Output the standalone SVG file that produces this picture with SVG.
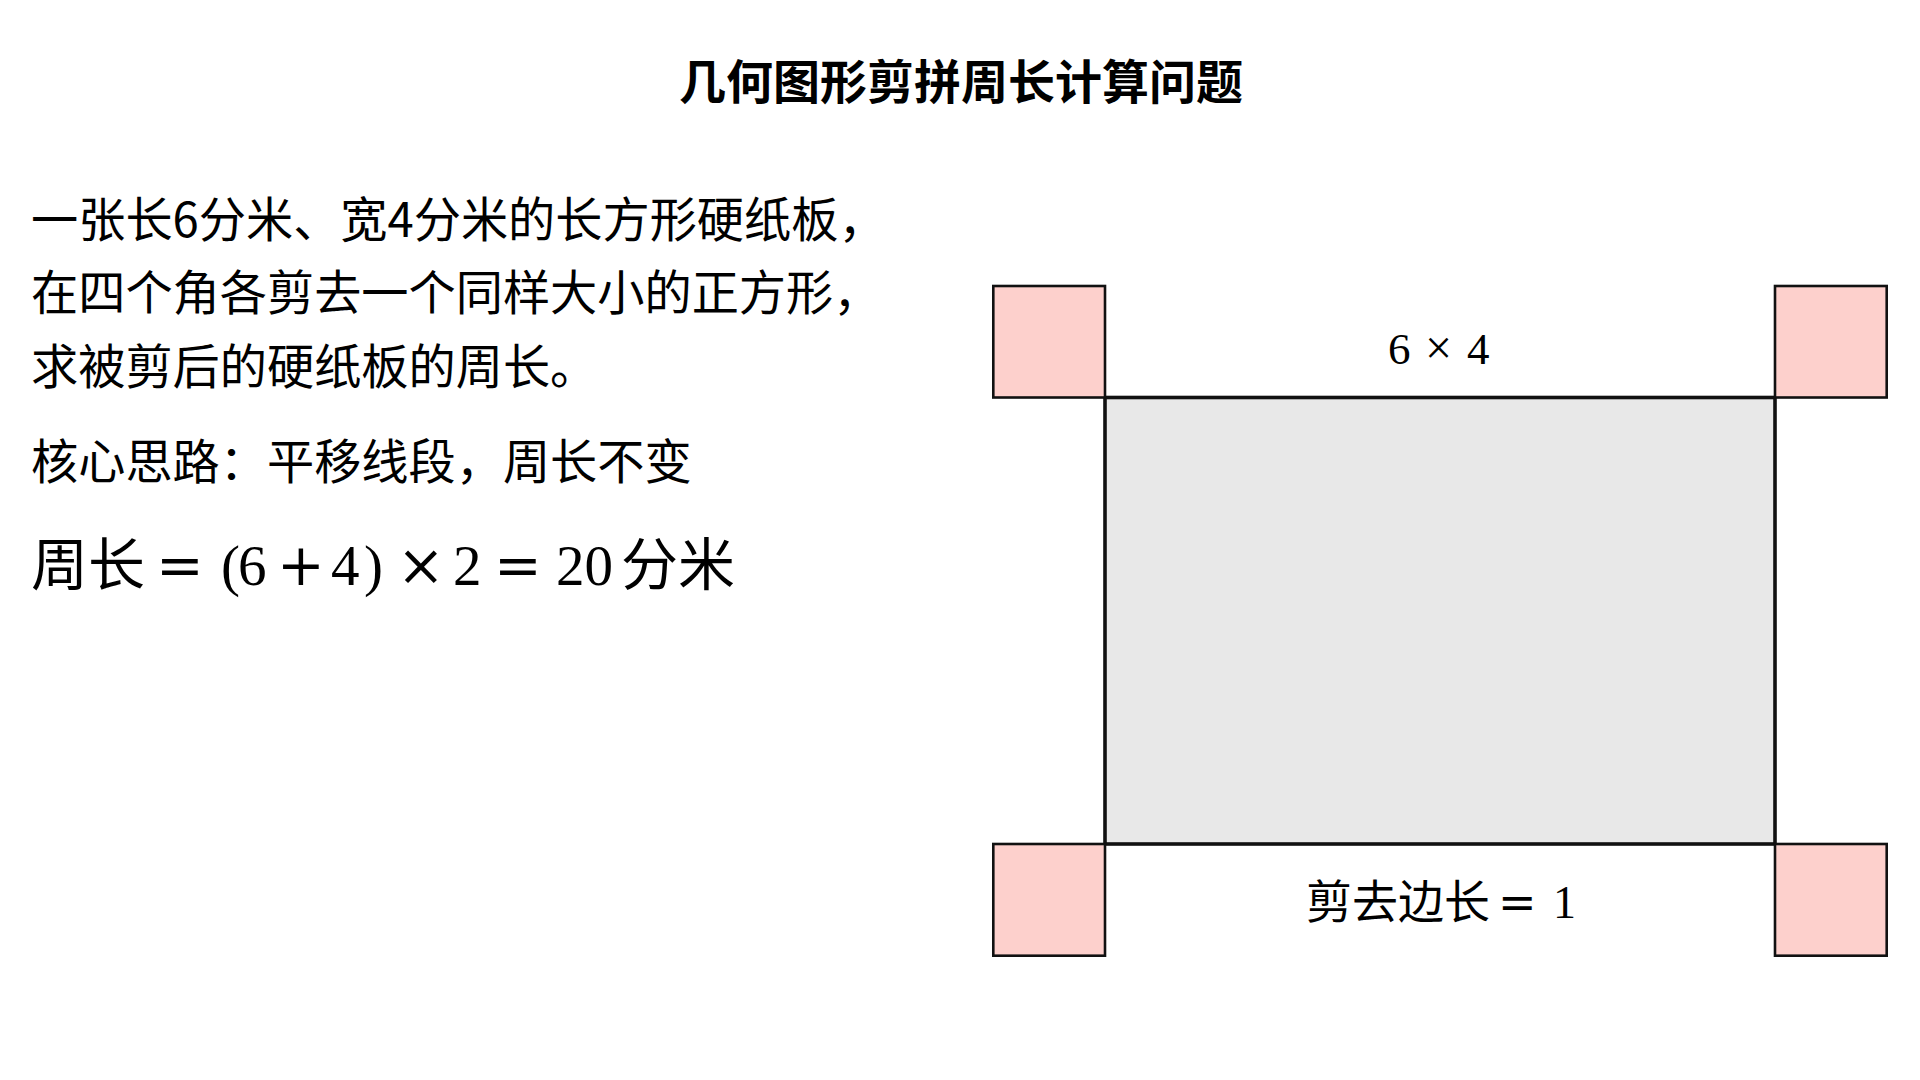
<svg xmlns="http://www.w3.org/2000/svg" width="1920" height="1080" viewBox="0 0 1920 1080">
<style>
  .title { font-family: "Noto Sans CJK SC", sans-serif; font-size: 47px; font-weight: bold; fill: #000; }
  .body { font-family: "Noto Sans CJK SC", sans-serif; font-size: 47.2px; fill: #000; }
  .math { font-family: "Liberation Serif", "Noto Sans CJK SC", serif; fill: #000; }
  .op { font-family: "DejaVu Serif", serif; }
  .corner { fill: #fdd0cc; stroke: #111; stroke-width: 2.6; }
  .board { fill: #e8e8e8; stroke: #111; stroke-width: 3.6; }
</style>
<rect width="1920" height="1080" fill="#ffffff"/>
<g id="title">
  <text class="title" x="961" y="99" text-anchor="middle">几何图形剪拼周长计算问题</text>
</g>
<g id="problem-text">
  <text class="body" x="31" y="237">一张长6分米、宽4分米的长方形硬纸板，</text>
  <text class="body" x="31" y="310">在四个角各剪去一个同样大小的正方形，</text>
  <text class="body" x="31" y="384">求被剪后的硬纸板的周长。</text>
  <text class="body" x="31" y="479">核心思路：平移线段，周长不变</text>
</g>
<g id="formula">
  <text class="math" font-size="57" y="585"><tspan x="31">周长</tspan><tspan class="op" x="156">=</tspan><tspan x="221">(</tspan><tspan x="238">6</tspan><tspan class="op" x="277">+</tspan><tspan x="331">4</tspan><tspan x="364">)</tspan><tspan class="op" x="397">×</tspan><tspan x="453">2</tspan><tspan class="op" x="494">=</tspan><tspan x="556">20</tspan><tspan x="621">分米</tspan></text>
</g>
<g id="board">
  <rect class="board" x="1105" y="397.5" width="670" height="446.5"/>
</g>
<g id="corner-tl"><rect class="corner" x="993.3" y="286" width="111.7" height="111.5"/></g>
<g id="corner-tr"><rect class="corner" x="1775" y="286" width="111.7" height="111.5"/></g>
<g id="corner-bl"><rect class="corner" x="993.3" y="844" width="111.7" height="111.7"/></g>
<g id="corner-br"><rect class="corner" x="1775" y="844" width="111.7" height="111.7"/></g>
<g id="label-top">
  <text class="math" font-size="45" y="364"><tspan x="1388">6</tspan><tspan font-size="48" x="1425">×</tspan><tspan x="1467">4</tspan></text>
</g>
<g id="label-bottom">
  <text class="math" font-size="46" y="918"><tspan x="1306">剪去边长</tspan><tspan class="op" x="1498">=</tspan><tspan x="1553">1</tspan></text>
</g>
</svg>
